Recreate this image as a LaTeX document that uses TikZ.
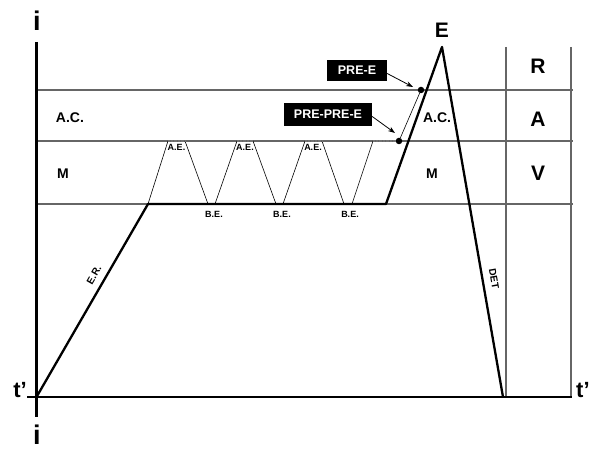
\documentclass[tikz,border=0pt]{standalone}
\usepackage{fontspec}
\setmainfont{Liberation Sans}
\usetikzlibrary{arrows.meta}
\begin{document}
\begin{tikzpicture}[x=1pt,y=-1pt,
 axis/.style={line width=2.6pt},
 gridline/.style={line width=1.2pt, draw=black!60},
 curve/.style={line width=2.3pt, line join=round},
 thinline/.style={line width=0.6pt},
 hatch/.style={line width=1.8pt, draw=black!55, dash pattern=on 0.7pt off 0.7pt},
 lbl/.style={font=\bfseries\fontsize{14}{14}\selectfont, inner sep=0pt},
 big/.style={font=\bfseries\fontsize{21}{21}\selectfont, inner sep=0pt},
 huge/.style={font=\bfseries\fontsize{27}{27}\selectfont, inner sep=0pt},
 tlab/.style={font=\bfseries\fontsize{22}{22}\selectfont, inner sep=0pt},
 small/.style={font=\bfseries\fontsize{9}{9}\selectfont, inner sep=0pt},
 slant/.style={font=\bfseries\fontsize{10}{10}\selectfont, inner sep=0pt},
 tag/.style={fill=black, text=white, font=\bfseries\fontsize{12.5}{13}\selectfont, inner sep=0pt},
 dot/.style={circle, fill=black, inner sep=0pt, minimum size=6.5pt},
 arr/.style={-{Stealth[length=7pt,width=5pt]}, line width=0.8pt}
]
\useasboundingbox (0,0) rectangle (590,449);
% grid
\coordinate (g1l) at (36,90);  \coordinate (g1r) at (573,90);
\coordinate (g2l) at (36,141); \coordinate (g2r) at (573,141);
\coordinate (g3l) at (36,204); \coordinate (g3r) at (573,204);
\coordinate (v1t) at (506,47); \coordinate (v1b) at (506,397);
\coordinate (v2t) at (571,47); \coordinate (v2b) at (571,397);
\draw[gridline] (g1l) -- (g1r);
\draw[gridline] (g2l) -- (g2r);
\draw[gridline] (g3l) -- (g3r);
\draw[gridline] (v1t) -- (v1b);
\draw[gridline] (v2t) -- (v2b);
% axes
\coordinate (yt) at (36.5,42); \coordinate (yb) at (36.5,417);
\coordinate (xl) at (27,397);  \coordinate (xr) at (572,397);
\draw[axis] (yt) -- (yb);
\draw[axis] (xl) -- (xr);
\node[huge] (itop) at (37,21) {i};
\node[huge] (ibot) at (37,435) {i};
\node[tlab] (tl) at (20,390) {t’};
\node[tlab, anchor=west] (tr) at (576,390) {t’};
% main curve
\coordinate (o) at (36.5,397);
\coordinate (p1) at (148,204);
\coordinate (p2) at (386,204);
\coordinate (pk) at (442,47);
\coordinate (pe) at (503,397);
\draw[curve] (o) -- (p1) -- (p2) -- (pk) -- (pe);
\node[big] (E) at (442,30) {E};
% trapezoids
\foreach \a/\b/\c/\d in {148/168/185/208, 215/237/253/276, 283/305/322/344}{
  \draw[thinline] (\a,204) -- (\b,141);
  \draw[thinline] (\c,141) -- (\d,204);
  \draw[hatch] (\b,141) -- (\c,141);
}
\node[dot] (d1) at (399,141) {};
\node[dot] (d2) at (421,90) {};
\draw[thinline] (352,204) -- (373,141);
\draw[hatch] (373,141) -- (d1.west);
\draw[thinline] (d1) -- (d2);
% small labels
\foreach \x in {176.5,245,313}{ \node[small] at (\x,147) {A.E.}; }
\foreach \x in {214,282,350}{ \node[small] at (\x,214) {B.E.}; }
\node[slant, rotate=60] (er) at (94,275) {E.R.};
\node[slant, rotate=-80] (det) at (494,279) {DET};
% region labels
\node[lbl] (ac1) at (70,118) {A.C.};
\node[lbl] (ac2) at (437,118) {A.C.};
\node[lbl] (m1) at (63,174) {M};
\node[lbl] (m2) at (432,174) {M};
\node[big] (R) at (538,66) {R};
\node[big] (A) at (538,119) {A};
\node[big] (V) at (538,173) {V};
% tags
\node[tag, minimum width=60pt, minimum height=21pt] (pre) at (357,70.5) {PRE-E};
\node[tag, minimum width=88pt, minimum height=23pt] (prepre) at (328,114.5) {PRE-PRE-E};
\coordinate (a1) at (413,87);
\coordinate (a2) at (395,133);
\draw[arr] (pre.east) ++(0,3) -- (a1);
\draw[arr] (prepre.east) ++(0,2) -- (a2);
\end{tikzpicture}
\end{document}
